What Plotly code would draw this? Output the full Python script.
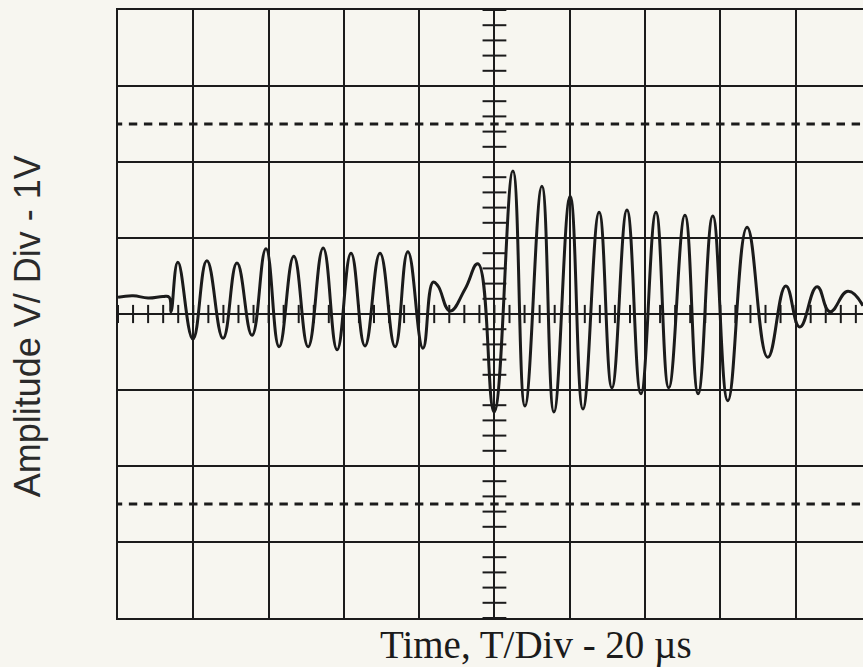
import plotly.graph_objects as go

# Oscilloscope capture: 20 us per division horizontally, 1 V per division vertically
time_us = [0.0, 4.0, 8.0, 12.0, 13.6, 14.1, 15.9, 19.9, 23.6, 27.9, 31.6, 35.6,
           39.3, 42.8, 46.7, 50.5, 54.5, 58.2, 61.9, 65.6, 69.6, 73.6, 77.0, 81.0,
           83.7, 85.0, 88.2, 92.2, 95.6, 99.9, 104.9, 108.1, 112.6, 115.8, 120.1,
           123.5, 127.8, 131.2, 135.2, 138.9, 142.9, 146.3, 150.6, 154.1, 158.0,
           162.0, 167.1, 172.6, 177.4, 181.1, 185.7, 189.1, 193.9, 197.9]
volts = [0.22, 0.24, 0.21, 0.23, 0.22, 0.03, 0.68, -0.33, 0.70, -0.32, 0.67, -0.28,
         0.86, -0.43, 0.76, -0.43, 0.87, -0.47, 0.80, -0.42, 0.80, -0.43, 0.82, -0.45,
         0.42, 0.37, 0.04, 0.33, 0.66, -1.29, 1.88, -1.21, 1.68, -1.29, 1.55,
         -1.25, 1.34, -0.97, 1.37, -1.05, 1.34, -0.97, 1.30, -1.05, 1.29,
         -1.14, 1.14, -0.57, 0.37, -0.17, 0.36, 0.03, 0.30, 0.11]

x_title = "Time, T/Div - 20 \u00b5s"
y_title = "Amplitude V/ Div - 1V"

X_MAX = 197.9          # visible part of the 10-division screen
INK = "#1b1b1b"
PAPER = "#f7f6f0"

# graticule minor marks (5 per division)
x_minor = [i * 4.0 for i in range(0, 50)]
y_minor = [-4.0 + i * 0.2 for i in range(0, 41)]

fig = go.Figure()

# minor ticks on the centre vertical axis
fig.add_trace(go.Scatter(
    x=[100.0] * len(y_minor), y=y_minor, mode="markers", hoverinfo="skip",
    marker=dict(symbol="line-ew", size=17, line=dict(width=2, color=INK)),
    showlegend=False))

# minor ticks on the centre horizontal axis
fig.add_trace(go.Scatter(
    x=x_minor, y=[0.0] * len(x_minor), mode="markers", hoverinfo="skip",
    marker=dict(symbol="line-ns", size=13, line=dict(width=2, color=INK)),
    showlegend=False))

# dotted reference lines at +/- 2.5 divisions
for level in (2.5, -2.5):
    fig.add_trace(go.Scatter(
        x=x_minor, y=[level] * len(x_minor), mode="markers", hoverinfo="skip",
        marker=dict(symbol="line-ew", size=6, line=dict(width=3, color=INK)),
        showlegend=False))

# the captured signal
fig.add_trace(go.Scatter(
    x=time_us, y=volts, mode="lines", hoverinfo="skip",
    line=dict(color=INK, width=3, shape="spline", smoothing=1.3),
    showlegend=False))

fig.update_xaxes(
    range=[0, X_MAX], dtick=20, tick0=0, showgrid=True, gridcolor=INK, gridwidth=2,
    zeroline=False, showticklabels=False, ticks="", showline=True,
    linecolor=INK, linewidth=2, mirror=True)
fig.update_yaxes(
    range=[-4, 4], dtick=1, tick0=0, showgrid=True, gridcolor=INK, gridwidth=2,
    zeroline=False, showticklabels=False, ticks="", showline=True,
    linecolor=INK, linewidth=2, mirror=False)

fig.add_annotation(
    text=x_title, xref="paper", yref="paper", x=0.561, y=-0.045,
    xanchor="center", yanchor="middle", showarrow=False,
    font=dict(family="Liberation Serif, Times New Roman, serif", size=39, color=INK))
fig.add_annotation(
    text=y_title, xref="paper", yref="paper", x=-0.122, y=0.48, textangle=-90,
    xanchor="center", yanchor="middle", showarrow=False,
    font=dict(family="Liberation Sans, Arial, sans-serif", size=36, color="#2a2a2a"))

fig.update_layout(
    width=863, height=667, autosize=False,
    margin=dict(l=118, r=0, t=10, b=49),
    paper_bgcolor=PAPER, plot_bgcolor=PAPER)

fig.write_html("out.html")
